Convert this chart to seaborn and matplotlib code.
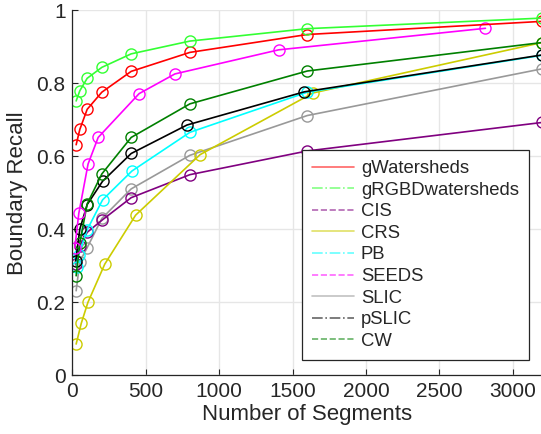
import matplotlib
matplotlib.use("Agg")
import matplotlib.pyplot as plt
from matplotlib.lines import Line2D
import pandas as pd
import seaborn as sns

sns.set_style("whitegrid")
plt.rcParams['font.family'] = ['Liberation Sans', 'DejaVu Sans']

# boundary recall per method
methods = ["gWatersheds", "gRGBDwatersheds", "CIS", "CRS", "PB", "SEEDS", "SLIC", "pSLIC", "CW"]
seg_std = [25, 50, 100, 200, 400, 800, 1600, 3200]
seg_crs = [25, 60, 105, 220, 430, 870, 1640, 3200]
seg_seeds = [16, 43, 106, 175, 454, 698, 1405, 2814]
seg_pslic = [22, 50, 100, 205, 400, 780, 1580, 3200]
seg_pb = [28, 42, 100, 205, 405, 800, 1600, 3200]

rec_gws = [0.632, 0.674, 0.729, 0.776, 0.833, 0.885, 0.934, 0.970]
rec_grgbd = [0.752, 0.780, 0.814, 0.844, 0.881, 0.916, 0.950, 0.979]
rec_cis = [0.305, 0.355, 0.392, 0.425, 0.487, 0.550, 0.615, 0.693]
rec_crs = [0.086, 0.143, 0.200, 0.305, 0.439, 0.605, 0.774, 0.912]
rec_pb = [0.296, 0.330, 0.399, 0.481, 0.560, 0.666, 0.776, 0.877]
rec_seeds = [0.350, 0.444, 0.579, 0.652, 0.772, 0.826, 0.892, 0.951]
rec_slic = [0.232, 0.312, 0.350, 0.430, 0.511, 0.603, 0.712, 0.840]
rec_pslic = [0.314, 0.401, 0.468, 0.532, 0.608, 0.686, 0.777, 0.878]
rec_cw = [0.273, 0.363, 0.470, 0.552, 0.652, 0.744, 0.834, 0.912]

series = {
    "gWatersheds": (seg_std, rec_gws),
    "gRGBDwatersheds": (seg_std, rec_grgbd),
    "CIS": (seg_std, rec_cis),
    "CRS": (seg_crs, rec_crs),
    "PB": (seg_pb, rec_pb),
    "SEEDS": (seg_seeds, rec_seeds),
    "SLIC": (seg_std, rec_slic),
    "pSLIC": (seg_pslic, rec_pslic),
    "CW": (seg_std, rec_cw),
}
colors = {"gWatersheds": "#ff0000", "gRGBDwatersheds": "#33ff33", "CIS": "#800080",
          "CRS": "#cccc00", "PB": "#00ffff", "SEEDS": "#ff00ff", "SLIC": "#999999",
          "pSLIC": "#000000", "CW": "#008000"}
legend_styles = {"gWatersheds": "-", "gRGBDwatersheds": "-.", "CIS": "--", "CRS": "-",
                 "PB": "-.", "SEEDS": "--", "SLIC": "-", "pSLIC": "-.", "CW": "--"}

fig = plt.figure(figsize=(5.41, 4.34), dpi=100)
ax = fig.add_axes([0.134, 0.135, 0.868, 0.841])

# draw lowest-priority first so red/green sit on top
for name in ["SLIC", "CIS", "CRS", "PB", "pSLIC", "CW", "SEEDS", "gWatersheds", "gRGBDwatersheds"]:
    xs, ys = series[name]
    df = pd.DataFrame({"segments": xs, "recall": ys})
    sns.lineplot(data=df, x="segments", y="recall", ax=ax, color=colors[name],
                 marker="o", markersize=8, markerfacecolor="none",
                 markeredgecolor=colors[name], markeredgewidth=1.0,
                 linewidth=1.2, sort=False, estimator=None)

ax.set_xlim(0, 3200)
ax.set_ylim(0, 1)
ax.set_xticks([0, 500, 1000, 1500, 2000, 2500, 3000])
ax.set_yticks([0, 0.2, 0.4, 0.6, 0.8, 1.0])
ax.set_yticklabels(["0", "0.2", "0.4", "0.6", "0.8", "1"])
ax.grid(True, color="#e6e6e6", linewidth=1.0)
ax.tick_params(axis="both", direction="in", length=4, width=0.8, colors="#262626",
               labelsize=15, pad=5, left=True, bottom=True)
for s in ["top", "right"]:
    ax.spines[s].set_visible(False)
for s in ["left", "bottom"]:
    ax.spines[s].set_color("#262626")
    ax.spines[s].set_linewidth(0.9)
ax.set_xlabel("Number of Segments", fontsize=16, color="#262626", labelpad=2)
ax.set_ylabel("Boundary Recall", fontsize=16, color="#262626", labelpad=6)

handles = [Line2D([0], [0], color=colors[m], linestyle=legend_styles[m], linewidth=1.2, alpha=0.6)
           for m in methods]
leg = ax.legend(handles, methods, loc="lower right", bbox_to_anchor=(0.972, 0.042),
                fontsize=13.3, frameon=True, fancybox=False, framealpha=1,
                edgecolor="#262626", handlelength=2.3, handletextpad=0.35,
                labelspacing=0.25, borderpad=0.55, borderaxespad=0)
leg.get_frame().set_linewidth(0.9)
for t in leg.get_texts():
    t.set_color("#262626")

fig.savefig("out.png", dpi=100)
